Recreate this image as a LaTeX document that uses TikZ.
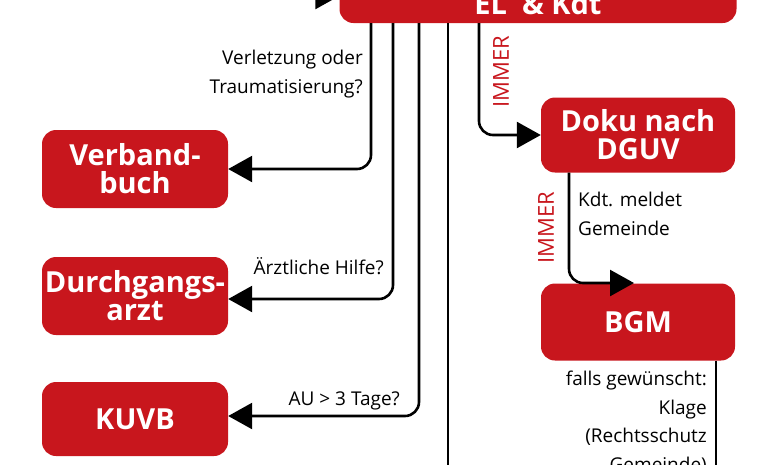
\documentclass[tikz,border=0pt]{standalone}
\usepackage{fontspec}
\setmainfont{Open Sans}
\usetikzlibrary{arrows.meta, positioning}

\definecolor{ffred}{HTML}{C8161D}

\begin{document}
\begin{tikzpicture}[x=1pt, y=-1pt,
  redbox/.style={draw=none, fill=ffred, rounded corners=14pt, text=white,
    font=\fontsize{29}{28}\selectfont\bfseries, align=center, inner sep=0pt},
  flow/.style={line width=2.6pt, rounded corners=14pt,
    -{Triangle[length=24pt, width=26pt]}},
  plain/.style={line width=2.6pt},
  note/.style={font=\fontsize{19}{28.5}\selectfont, inner sep=0pt},
  always/.style={font=\fontsize{22}{22}\selectfont, text=ffred, rotate=90, inner sep=0pt}]

\useasboundingbox (0,0) rectangle (768,464);
\clip (0,0) rectangle (768,464);

% --- Boxes ---
\node[redbox, minimum width=397pt, minimum height=38pt] (top) at (538,4) {EL\ \ \& Kdt};
\node[redbox, minimum width=186pt, minimum height=78pt] (verband) at (135,169) {Verband-\\buch};
\node[redbox, minimum width=186pt, minimum height=78pt] (dgarzt) at (135,296) {Durchgangs-\\arzt};
\node[redbox, minimum width=186pt, minimum height=74pt] (kuvb) at (135,419) {KUVB};
\node[redbox, minimum width=194pt, minimum height=75pt] (doku) at (638,135) {Doku nach\\DGUV};
\node[redbox, minimum width=194pt, minimum height=77pt] (bgm) at (638,322) {BGM};

% --- Connector columns ---
\coordinate (v1) at (371,0);
\coordinate (v2) at (393,0);
\coordinate (v3) at (419,0);
\coordinate (v4) at (448,0);
\coordinate (v5) at (479,0);
\coordinate (v6) at (569,0);
\coordinate (v7) at (716,0);
\coordinate (inTop) at (250,-4);
\coordinate (downEnd) at (448,480);
\coordinate (bgmEnd) at (716,480);

% --- Connectors ---
\draw[flow] (inTop) -- (top.west |- inTop);
\draw[flow] (top.south -| v1) |- (verband.east);
\draw[flow] (top.south -| v2) |- (dgarzt.east |- 0,299);
\draw[flow] (top.south -| v3) |- (kuvb.east |- 0,416);
\draw[plain] (top.south -| v4) -- (downEnd);
\draw[flow] (top.south -| v5) |- (doku.west);
\draw[flow] (doku.south -| v6) |- (634,283);
\draw[plain] (bgm.south -| v7) -- (bgmEnd);

% --- Labels ---
\node[note, align=right, anchor=north east] (lblVerl) at (363,50) {Verletzung oder\\Traumatisierung?};
\node[note, anchor=east] (lblArzt) at (384,266) {Ärztliche Hilfe?};
\node[note, anchor=east] (lblAu) at (400,401) {AU > 3 Tage?};
\node[note, align=left, anchor=north west] (lblKdt) at (578,192) {Kdt. meldet\\Gemeinde};
\node[note, align=right, anchor=north east] (lblKlage) at (707,371) {falls gewünscht:\\Klage\\(Rechtsschutz\\Gemeinde)};
\node[always] (imm1) at (501,72) {IMMER};
\node[always] (imm2) at (546,228) {IMMER};

\end{tikzpicture}
\end{document}
